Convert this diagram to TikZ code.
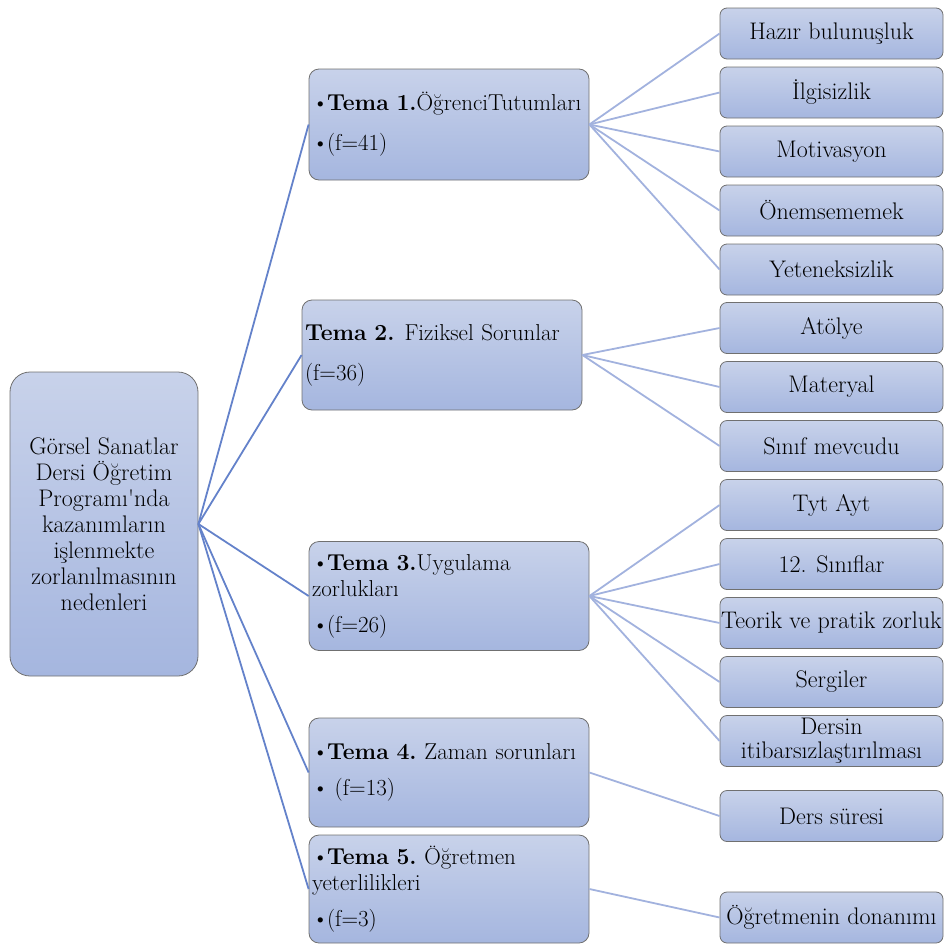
\documentclass[tikz,border=0pt]{standalone}
\usepackage{fontspec}
\definecolor{boxtop}{RGB}{200,210,234}
\definecolor{boxbot}{RGB}{165,182,223}
\definecolor{boxborder}{RGB}{112,112,112}
\definecolor{linedark}{RGB}{100,130,202}
\definecolor{linelight}{RGB}{162,178,222}
\newcommand{\bul}{\textbullet\kern-1.5pt}
\begin{document}
\begin{tikzpicture}[x=1pt,y=-1pt,
 box/.style={draw=boxborder, line width=0.8pt, top color=boxtop, bottom color=boxbot, font=\fontsize{24}{26}\selectfont, inner sep=3pt},
 rootbox/.style={box, rounded corners=20pt, minimum width=188pt, minimum height=304pt, align=center},
 tema/.style={box, rounded corners=10pt, minimum width=280pt, text width=274pt, align=left, inner xsep=3pt, font=\fontsize{23}{26}\selectfont},
 leaf/.style={box, rounded corners=7pt, minimum width=223pt, minimum height=51pt, align=center, inner sep=1pt},
 dark/.style={draw=linedark, line width=1.8pt},
 light/.style={draw=linelight, line width=1.8pt}]
\useasboundingbox (0,0) rectangle (944,945);
\node[rootbox] (root) at (104,524) {Görsel Sanatlar\\Dersi Öğretim\\Programı\textquotesingle nda\\kazanımların\\işlenmekte\\zorlanılmasının\\nedenleri};
\node[tema, minimum height=111pt] (t1) at (449,124.5) {\mbox{\bul\textbf{Tema 1.}ÖğrenciTutumları}\\[14pt]\bul(f=41)};
\node[tema, minimum height=110pt] (t2) at (442,355) {\textbf{Tema 2.}\hspace{10pt}Fiziksel Sorunlar\\[14pt](f=36)};
\node[tema, minimum height=109pt] (t3) at (449,596) {\bul\textbf{Tema 3.}Uygulama\\zorlukları\\[10pt]\bul(f=26)};
\node[tema, minimum height=109pt] (t4) at (449,772.5) {\bul\textbf{Tema 4.}\ Zaman sorunları\\[10pt]\bul\ (f=13)};
\node[tema, minimum height=108pt] (t5) at (449,889) {\bul\textbf{Tema 5.}\ Öğretmen\\yeterlilikleri\\[10pt]\bul(f=3)};
\node[leaf] (l1) at (831.5,33.5) {Hazır bulunuşluk};
\node[leaf] (l2) at (831.5,92.5) {İlgisizlik};
\node[leaf] (l3) at (831.5,151.5) {Motivasyon};
\node[leaf] (l4) at (831.5,210.5) {Önemsememek};
\node[leaf] (l5) at (831.5,269.5) {Yeteneksizlik};
\node[leaf] (l6) at (831.5,328) {Atölye};
\node[leaf] (l7) at (831.5,387) {Materyal};
\node[leaf] (l8) at (831.5,446) {Sınıf mevcudu};
\node[leaf] (l9) at (831.5,505) {Tyt Ayt};
\node[leaf] (l10) at (831.5,564) {12. Sınıflar};
\node[leaf] (l11) at (831.5,623) {Teorik ve pratik zorluk};
\node[leaf] (l12) at (831.5,682) {Sergiler};
\node[leaf] (l13) at (831.5,741) {Dersin\\[-2pt]itibarsızlaştırılması};
\node[leaf] (l14) at (831.5,816) {Ders süresi};
\node[leaf] (l15) at (831.5,917.5) {Öğretmenin donanımı};
\foreach \t in {t1,t2,t3,t4,t5} \draw[dark] (root.east) -- (\t.west);
\foreach \l in {l1,l2,l3,l4,l5} \draw[light] (t1.east) -- (\l.west);
\foreach \l in {l6,l7,l8} \draw[light] (t2.east) -- (\l.west);
\foreach \l in {l9,l10,l11,l12,l13} \draw[light] (t3.east) -- (\l.west);
\draw[light] (t4.east) -- (l14.west);
\draw[light] (t5.east) -- (l15.west);
\end{tikzpicture}
\end{document}
